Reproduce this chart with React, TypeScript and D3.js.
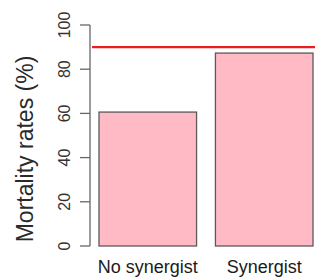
import * as d3 from "d3";

const WIDTH = 315;
const HEIGHT = 279;

const categories = ["No synergist", "Synergist"];
const mortality = [60.6, 87.3];
const yTicks = [0, 20, 40, 60, 80, 100];
const threshold = 90;

const PLOT = {left: 90, top: 25, bottom: 246, barLeft: 99, barRight: 313, lineLeft: 92};

export default function App() {
    const yScale = d3.scaleLinear().domain([0, 100]).range([PLOT.bottom, PLOT.top]);

    const xScale = d3
        .scaleBand()
        .domain(categories)
        .range([PLOT.barLeft, PLOT.barRight])
        .paddingInner(0.162)
        .paddingOuter(0);

    const bars = categories.map((c, i) => (
        <rect
            key={c}
            x={xScale(c)}
            y={yScale(mortality[i])}
            width={xScale.bandwidth()}
            height={yScale(0) - yScale(mortality[i])}
            fill="#ffbac6"
            stroke="#5a5a5a"
            strokeWidth={1.3}
        />
    ));

    const xLabels = categories.map((c) => (
        <text
            key={c}
            x={(xScale(c) ?? 0) + xScale.bandwidth() / 2}
            y={273}
            textAnchor="middle"
            fontSize={18}
            fill="#1a1a1a"
        >
            {c}
        </text>
    ));

    const ticks = yTicks.map((t) => (
        <g key={t} transform={`translate(0,${yScale(t)})`}>
            <line x1={80} x2={PLOT.left} stroke="#666" strokeWidth={1.3} />
            <text
                transform={`translate(70,0) rotate(-90)`}
                textAnchor="middle"
                fontSize={16}
                fill="#333"
            >
                {t}
            </text>
        </g>
    ));

    return (
        <div style={{position: "absolute", left: 0, top: 0}}>
            <svg width={WIDTH} height={HEIGHT} style={{display: "block", background: "#fff"}} fontFamily="'Liberation Sans', Arial, sans-serif">
                <line x1={PLOT.left} x2={PLOT.left} y1={yScale(0)} y2={yScale(100)} stroke="#666" strokeWidth={1.3} />
                {ticks}
                <text
                    transform={`translate(33,149) rotate(-90)`}
                    textAnchor="middle"
                    fontSize={23}
                    fill="#2a2a2a"
                >
                    Mortality rates (%)
                </text>
                {bars}
                <line
                    x1={PLOT.lineLeft}
                    x2={WIDTH}
                    y1={yScale(threshold)}
                    y2={yScale(threshold)}
                    stroke="#ee1c1c"
                    strokeWidth={2.2}
                />
                {xLabels}
            </svg>
        </div>
    );
}
